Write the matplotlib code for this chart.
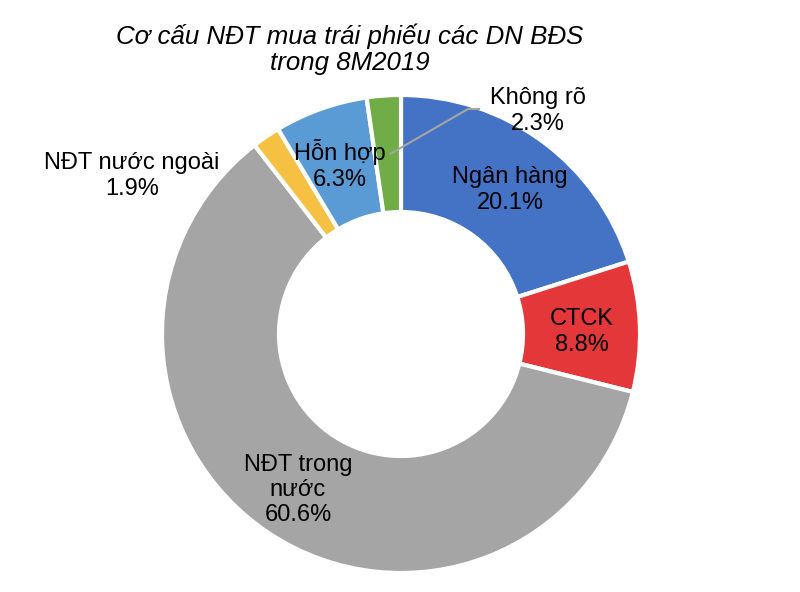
import matplotlib
matplotlib.use("Agg")
import matplotlib.pyplot as plt

# Data
categories = ["Ngân hàng", "CTCK", "NĐT trong\nnước", "NĐT nước ngoài", "Hỗn hợp", "Không rõ"]
values = [20.1, 8.8, 60.6, 1.9, 6.3, 2.3]
colors = ["#4472C4", "#E3373A", "#A5A5A5", "#F6C142", "#5B9BD5", "#70AD47"]
title = "Cơ cấu NĐT mua trái phiếu các DN BĐS\ntrong 8M2019"

plt.rcParams['font.family'] = ['Liberation Sans', 'DejaVu Sans']

W, H = 800, 592
fig = plt.figure(figsize=(W / 100, H / 100), dpi=100)
ax = fig.add_axes([0, 0, 1, 1])

cx, cy, R = 401, H - 334, 239
explode = [0, 0.015, 0, 0, 0, 0]
ax.pie(values, colors=colors, startangle=90, counterclock=False,
       center=(cx, cy), radius=R, explode=explode,
       wedgeprops=dict(width=117, edgecolor="white", linewidth=3))
ax.set_xlim(0, W)
ax.set_ylim(0, H)
ax.set_aspect("equal")
ax.axis("off")

def P(x, y):
    return x, H - y

# label positions in pixel coords (center of text block)
label_pos = [(510, 190), (582, 332), (298, 490), (132, 176), (340, 165), (538, 111)]
for name, v, (x, y) in zip(categories, values, label_pos):
    ax.text(*P(x, y), f"{name}\n{v:.1f}%", ha="center", va="center",
            fontsize=17, color="black", linespacing=1.2)

# leader line for "Không rõ"
ax.plot([P(480, 109)[0], P(468, 109)[0], P(390, 154)[0]],
        [P(480, 109)[1], P(468, 109)[1], P(390, 154)[1]],
        color="#A5A5A5", lw=1.5, solid_capstyle="butt")

ax.text(*P(350, 49), title, ha="center", va="center", fontsize=18.6,
        style="italic", color="black", linespacing=1.12)

fig.savefig("out.png", dpi=100)
